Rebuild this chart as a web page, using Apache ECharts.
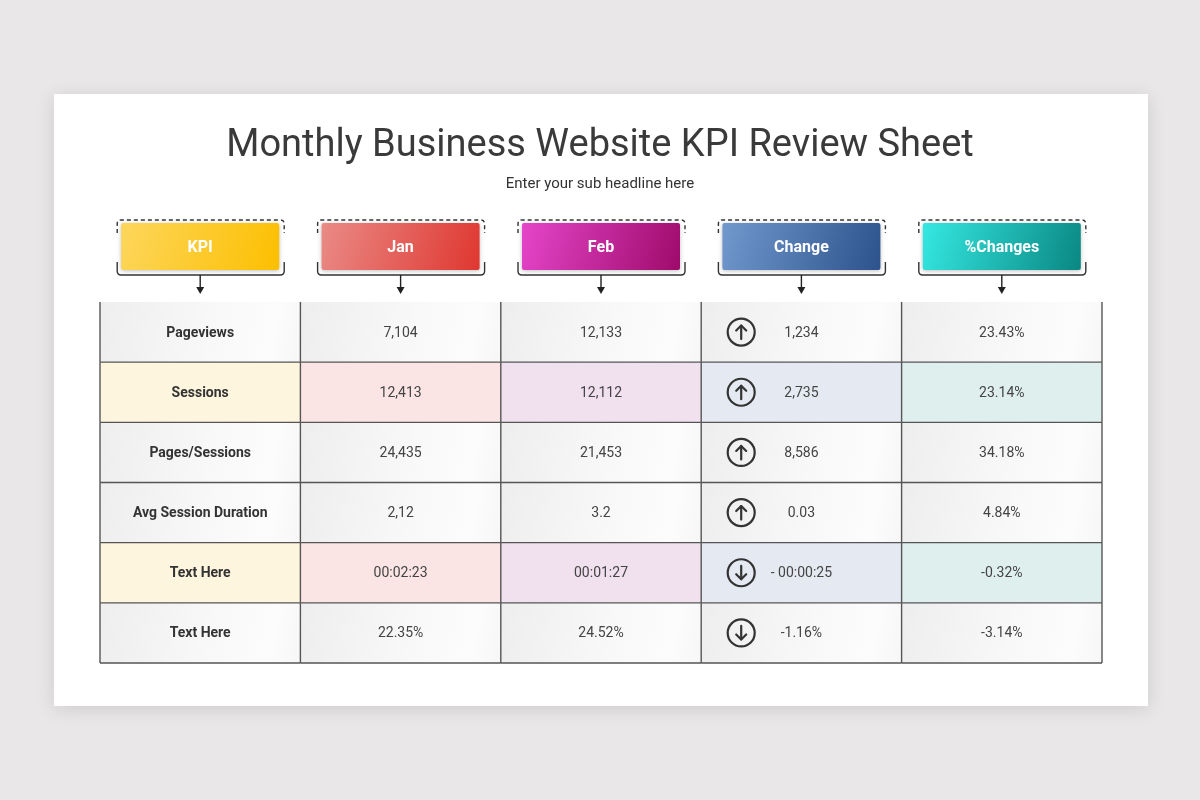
<!DOCTYPE html>
<html><head><meta charset="utf-8">
<script src="https://cdn.jsdelivr.net/npm/echarts@6/dist/echarts.min.js"></script>
<style>html,body{margin:0;padding:0;background:#e9e7e8}#chart{width:1200px;height:800px}</style>
</head><body><div id="chart"></div>
<script>
// ---- data ----
const headers = ['KPI', 'Jan', 'Feb', 'Change', '%Changes'];
const kpis = ['Pageviews', 'Sessions', 'Pages/Sessions', 'Avg Session Duration', 'Text Here', 'Text Here'];
const janValues = ['7,104', '12,413', '24,435', '2,12', '00:02:23', '22.35%'];
const febValues = ['12,133', '12,112', '21,453', '3.2', '00:01:27', '24.52%'];
const changeValues = ['1,234', '2,735', '8,586', '0.03', '- 00:00:25', '-1.16%'];
const changeDirections = ['up', 'up', 'up', 'up', 'down', 'down'];
const pctChanges = ['23.43%', '23.14%', '34.18%', '4.84%', '-0.32%', '-3.14%'];

// ---- styles ----
const headerGradients = [
  ['#fdd65c', '#fcbf00'],
  ['#ea8a86', '#df3730'],
  ['#e545c9', '#9e0b6b'],
  ['#7199ce', '#2d528c'],
  ['#35e8e2', '#0a8783']
];
const tintRows = [1, 4];
const tintColors = ['#fdf5de', '#fbe4e4', '#f1e0ee', '#e5e9f1', '#deefee'];
const lineColor = '#555555';

const columns = [kpis, janValues, febValues, changeValues, pctChanges];
const cellData = [];
kpis.forEach(function (_, r) {
  headers.forEach(function (_, c) { cellData.push([c, r]); });
});
const headerData = headers.map(function (_, c) { return [c, 0]; });

function renderCell(params, api) {
  const c = api.value(0), r = api.value(1);
  const p = api.coord([c, r]);
  const s = api.size([1, 1]);
  const w = s[0], h = s[1];
  const x = p[0] - w / 2, y = p[1] - h / 2;
  const tinted = tintRows.indexOf(r) >= 0;
  const fill = tinted ? tintColors[c] : new echarts.graphic.LinearGradient(0, 0.2, 1, 0.8, [
    { offset: 0, color: '#eeeeee' }, { offset: 0.55, color: '#f8f8f8' }, { offset: 0.85, color: '#fcfcfc' }, { offset: 1, color: '#f7f7f7' }
  ]);
  const children = [
    { type: 'rect', shape: { x: x, y: y, width: w, height: h }, style: { fill: fill }, z2: 0 },
    { type: 'line', shape: { x1: x, y1: y, x2: x, y2: y + h }, style: { stroke: lineColor, lineWidth: 1.4 }, z2: 10 },
    { type: 'line', shape: { x1: x, y1: y + h, x2: x + w, y2: y + h }, style: { stroke: lineColor, lineWidth: 1.4 }, z2: 10 }
  ];
  if (c === headers.length - 1) {
    children.push({ type: 'line', shape: { x1: x + w, y1: y, x2: x + w, y2: y + h }, style: { stroke: lineColor, lineWidth: 1.4 }, z2: 10 });
  }
  children.push({
    type: 'text', z2: 5,
    style: {
      text: columns[c][r], x: p[0], y: p[1] + 1, align: 'center', verticalAlign: 'middle',
      font: (c === 0 ? 'bold ' : '') + '14px Roboto', fill: c === 0 ? '#333' : '#444'
    }
  });
  if (c === 3) {
    const cx = x + 40, cy = p[1];
    const up = changeDirections[r] === 'up';
    const d = up ? -1 : 1;
    children.push({ type: 'circle', shape: { cx: cx, cy: cy, r: 13.5 }, style: { fill: 'none', stroke: '#333', lineWidth: 2.2 }, z2: 6 });
    children.push({ type: 'line', shape: { x1: cx, y1: cy - 7 * d, x2: cx, y2: cy + 6.5 * d }, style: { stroke: '#333', lineWidth: 2.2, lineCap: 'round' }, z2: 6 });
    children.push({ type: 'polyline', shape: { points: [[cx - 5, cy + 1.5 * d], [cx, cy + 6.5 * d], [cx + 5, cy + 1.5 * d]] }, style: { fill: 'none', stroke: '#333', lineWidth: 2.2, lineCap: 'round', lineJoin: 'round' }, z2: 6 });
  }
  return { type: 'group', children: children };
}

function renderHeader(params, api) {
  const c = api.value(0);
  const cx = api.coord([c, 0])[0];
  const top = params.coordSys.y;
  const bw = 158, bh = 47;
  const by = top - 79;
  const bx = cx - bw / 2;
  const L = cx - 83, R = cx + 84;
  const g = headerGradients[c];
  const dashTop = top - 82;
  const solidBot = top - 27;
  return {
    type: 'group',
    children: [
      { type: 'path', shape: { pathData: 'M' + L + ' ' + (dashTop + 13) + ' L' + L + ' ' + (dashTop + 4) + ' Q' + L + ' ' + dashTop + ' ' + (L + 4) + ' ' + dashTop + ' L' + (R - 4) + ' ' + dashTop + ' Q' + R + ' ' + dashTop + ' ' + R + ' ' + (dashTop + 4) + ' L' + R + ' ' + (dashTop + 13) },
        style: { fill: 'none', stroke: '#333', lineWidth: 1.4, lineDash: [4, 3] } },
      { type: 'path', shape: { pathData: 'M' + L + ' ' + (solidBot - 13) + ' L' + L + ' ' + (solidBot - 4) + ' Q' + L + ' ' + solidBot + ' ' + (L + 4) + ' ' + solidBot + ' L' + (R - 4) + ' ' + solidBot + ' Q' + R + ' ' + solidBot + ' ' + R + ' ' + (solidBot - 4) + ' L' + R + ' ' + (solidBot - 13) },
        style: { fill: 'none', stroke: '#333', lineWidth: 1.4 } },
      { type: 'rect', shape: { x: bx, y: by, width: bw, height: bh, r: 2 },
        style: { fill: new echarts.graphic.LinearGradient(0, 0, 1, 1, [{ offset: 0, color: g[0] }, { offset: 1, color: g[1] }]),
          shadowBlur: 4, shadowColor: 'rgba(0,0,0,0.25)', shadowOffsetY: 1 } },
      { type: 'text', style: { text: headers[c], x: cx, y: by + bh / 2 + 1, align: 'center', verticalAlign: 'middle', font: 'bold 16px Roboto', fill: '#fff' } },
      { type: 'line', shape: { x1: cx, y1: solidBot, x2: cx, y2: top - 14 }, style: { stroke: '#222', lineWidth: 1.4 } },
      { type: 'polygon', shape: { points: [[cx - 4, top - 15], [cx + 4, top - 15], [cx, top - 8]] }, style: { fill: '#222' } }
    ]
  };
}

const chart = echarts.init(document.getElementById('chart'));
chart.setOption({
  backgroundColor: '#e9e7e8',
  animation: false,
  title: [
    { text: 'Monthly Business Website KPI Review Sheet', left: 'center', top: 127, padding: 0,
      textStyle: { fontFamily: 'Roboto', fontSize: 38, fontWeight: 'normal', color: '#3a3a3a' } },
    { text: 'Enter your sub headline here', left: 'center', top: 177, padding: 0,
      textStyle: { fontFamily: 'Roboto', fontSize: 15, fontWeight: 'normal', color: '#333' } }
  ],
  graphic: [
    { type: 'rect', z: -10, shape: { x: 54, y: 94, width: 1094, height: 612 },
      style: { fill: '#ffffff', shadowBlur: 18, shadowColor: 'rgba(0,0,0,0.12)', shadowOffsetY: 3 } }
  ],
  grid: { left: 100, right: 98, top: 302, bottom: 137 },
  xAxis: { type: 'category', data: headers, show: false },
  yAxis: { type: 'category', data: kpis.map(function (k, i) { return k + '#' + i; }), inverse: true, show: false },
  series: [
    { type: 'custom', name: 'cells', coordinateSystem: 'cartesian2d', renderItem: renderCell, data: cellData, clip: false },
    { type: 'custom', name: 'headers', coordinateSystem: 'cartesian2d', renderItem: renderHeader, data: headerData, clip: false }
  ]
});
</script></body></html>
